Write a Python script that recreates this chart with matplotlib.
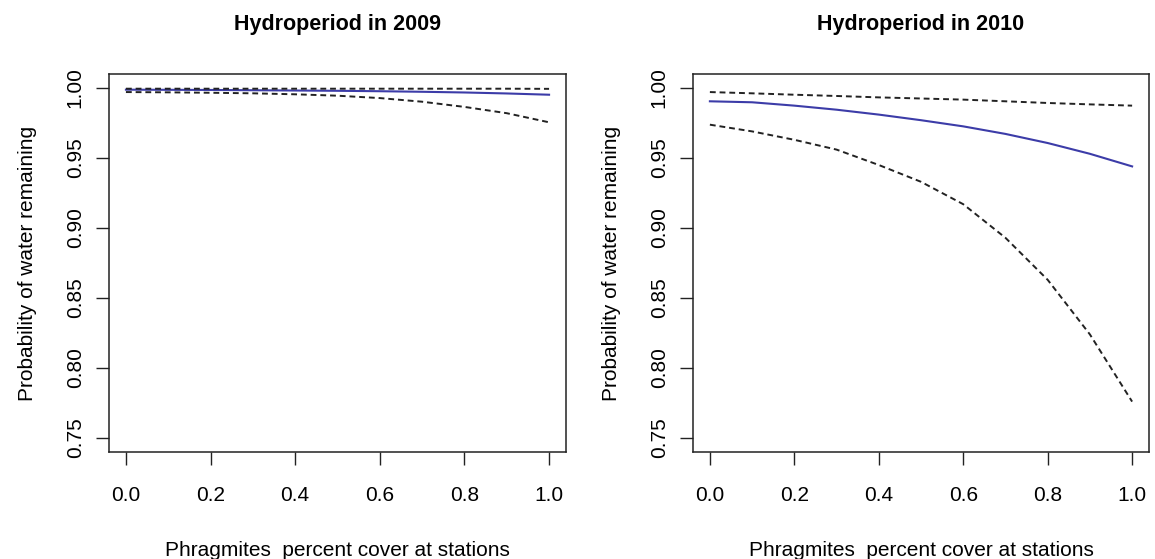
import numpy as np
import matplotlib
matplotlib.use("Agg")
import matplotlib.pyplot as plt

plt.rcParams['font.family'] = ['Liberation Sans', 'DejaVu Sans']

# phragmites cover values
cover = [0.0, 0.1, 0.2, 0.3, 0.4, 0.5, 0.6, 0.7, 0.8, 0.9, 1.0]

# 2009 fitted probability and confidence bounds
fit_2009 = [0.9988, 0.9987, 0.9986, 0.9984, 0.9982, 0.9980, 0.9977, 0.9973, 0.9968, 0.9961, 0.9952]
upr_2009 = [0.9995, 0.9995, 0.9995, 0.9995, 0.9995, 0.9995, 0.9995, 0.9995, 0.9995, 0.9995, 0.9994]
lwr_2009 = [0.9971, 0.9969, 0.9966, 0.9962, 0.9955, 0.9945, 0.9928, 0.9902, 0.9865, 0.9820, 0.9755]

# 2010
fit_2010 = [0.9905, 0.9898, 0.9874, 0.9845, 0.9810, 0.9770, 0.9726, 0.9672, 0.9607, 0.9530, 0.9440]
upr_2010 = [0.9971, 0.9962, 0.9952, 0.9943, 0.9933, 0.9925, 0.9917, 0.9905, 0.9893, 0.9883, 0.9874]
lwr_2010 = [0.9738, 0.9690, 0.9630, 0.9560, 0.9450, 0.9330, 0.9170, 0.8930, 0.8630, 0.8240, 0.7760]

titles = ["Hydroperiod in 2009", "Hydroperiod in 2010"]
xticks = [0.0, 0.2, 0.4, 0.6, 0.8, 1.0]
yticks = [0.75, 0.80, 0.85, 0.90, 0.95, 1.00]

fig = plt.figure(figsize=(11.55, 5.59), dpi=100)
W, H = 1155, 559
boxes = [(109, 566), (693, 1149)]
top, bot = 74, 452

panels = [(fit_2009, upr_2009, lwr_2009), (fit_2010, upr_2010, lwr_2010)]

for i, (fit, upr, lwr) in enumerate(panels):
    x0, x1 = boxes[i]
    ax = fig.add_axes([x0 / W, 1 - bot / H, (x1 - x0) / W, (bot - top) / H])
    ax.plot(cover, fit, color='#3c3ca8', lw=1.5)
    ax.plot(cover, upr, color='#222222', lw=1.4, dashes=(3.0, 2.0))
    ax.plot(cover, lwr, color='#222222', lw=1.4, dashes=(3.0, 2.0))
    ax.set_xlim(-0.04, 1.04)
    ax.set_ylim(0.74, 1.01)
    ax.set_xticks(xticks)
    ax.set_xticklabels(["%.1f" % t for t in xticks])
    ax.set_yticks(yticks)
    ax.set_yticklabels(["%.2f" % t for t in yticks], rotation=90, va='center')
    ax.tick_params(labelsize=15, length=9.5, width=1.0, color='#222222', pad=8)
    ax.tick_params(axis='x', pad=15)
    for s in ax.spines.values():
        s.set_linewidth(1.1)
        s.set_color('#222222')
    ax.set_title(titles[i], fontsize=15.5, fontweight='bold', pad=32)
    ax.set_xlabel("Phragmites  percent cover at stations", fontsize=15, labelpad=26)
    ax.set_ylabel("Probability of water remaining", fontsize=15, labelpad=21)

fig.savefig("out.png", dpi=100)
